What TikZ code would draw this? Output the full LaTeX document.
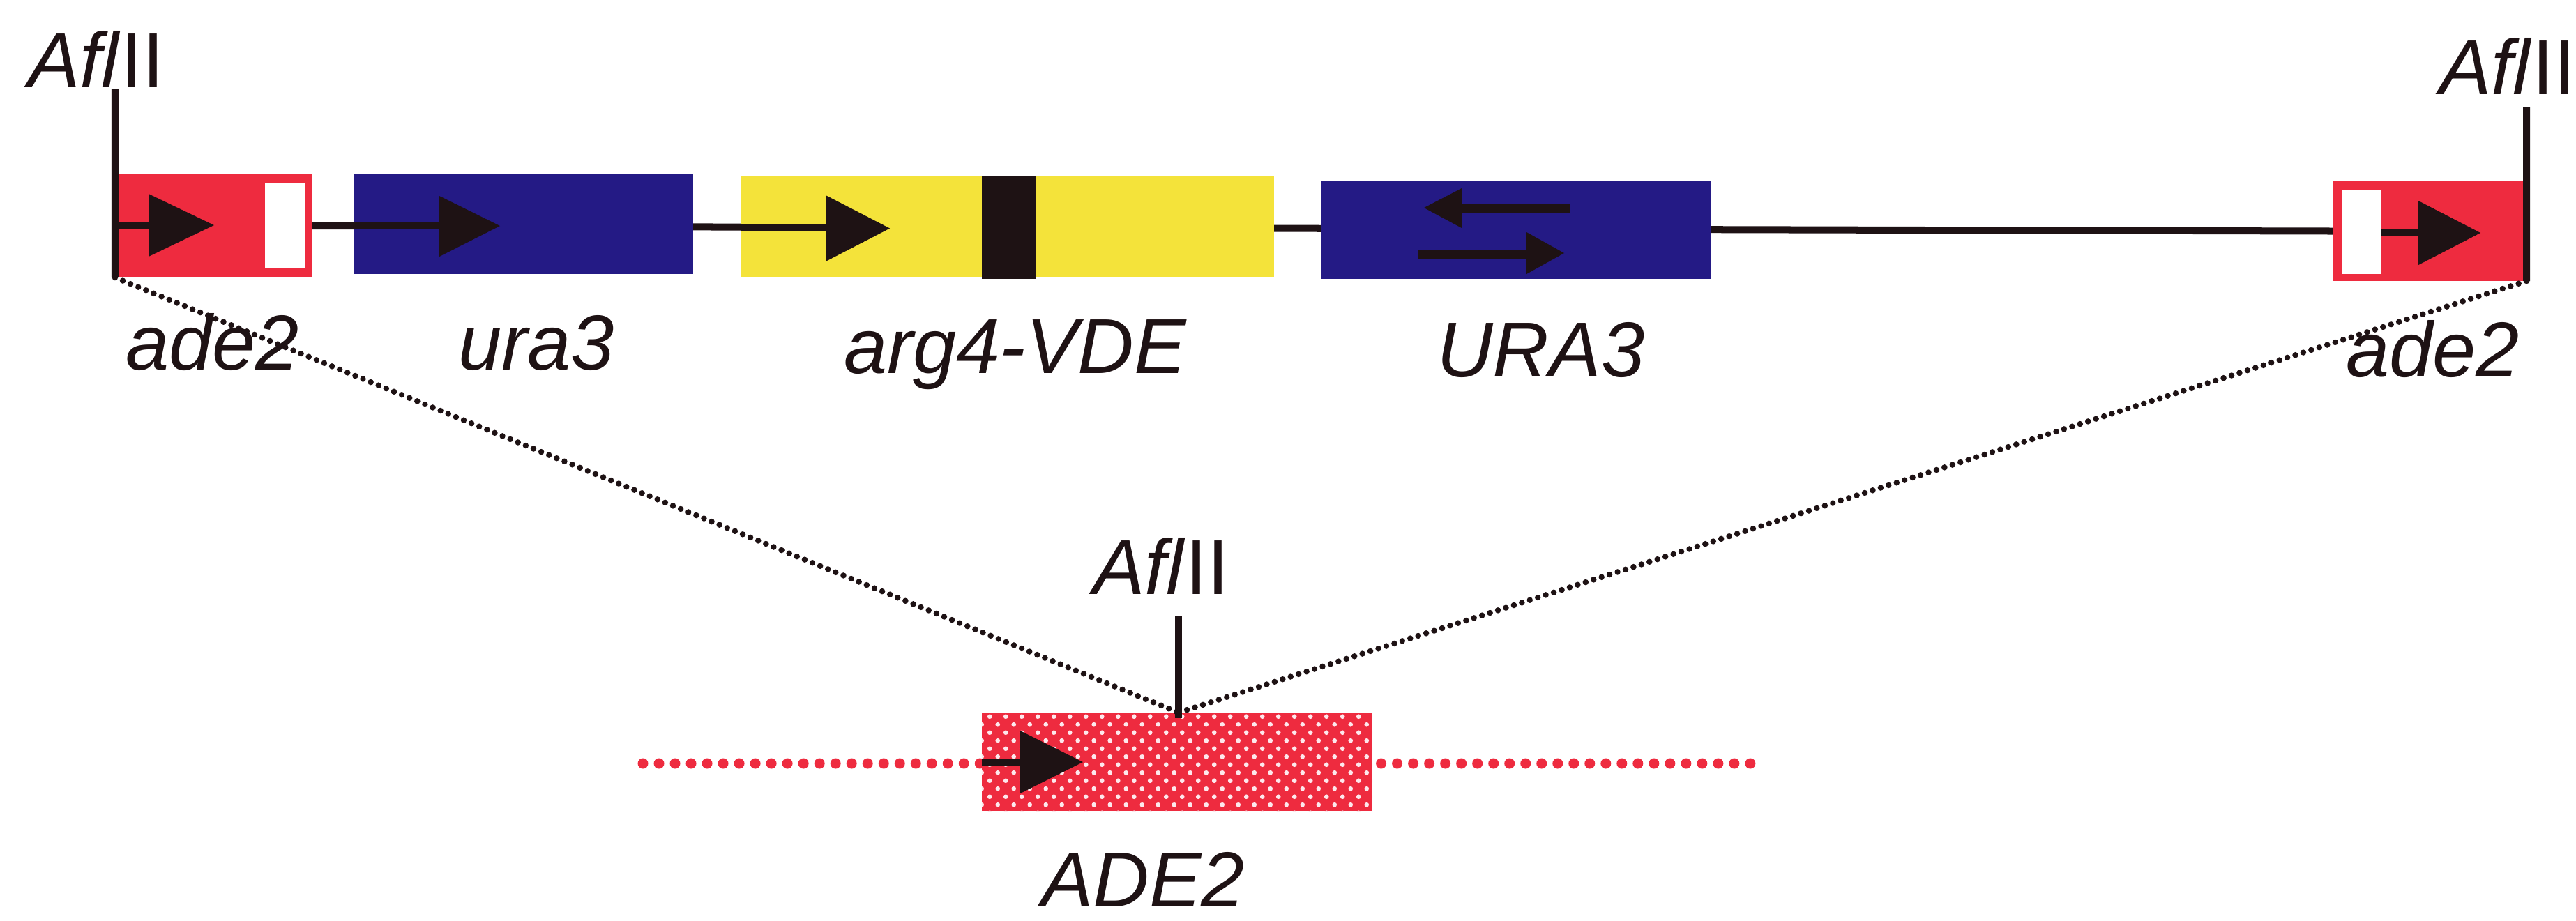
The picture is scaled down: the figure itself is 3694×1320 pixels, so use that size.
\documentclass[tikz,border=0pt]{standalone}
\usepackage{fontspec}
\setmainfont{Liberation Sans}
\usetikzlibrary{patterns}
\pgfdeclarepatternformonly{whitedots}{\pgfpointorigin}{\pgfpoint{6.54pt}{6.54pt}}{\pgfpoint{6.54pt}{6.54pt}}{%
  \pgfpathcircle{\pgfpoint{1.635pt}{1.635pt}}{0.95pt}%
  \pgfpathcircle{\pgfpoint{4.905pt}{4.905pt}}{0.95pt}%
  \pgfusepath{fill}}
\definecolor{gred}{HTML}{EE2B3F}
\definecolor{gblue}{HTML}{241A85}
\definecolor{gyellow}{HTML}{F4E33A}
\definecolor{ink}{HTML}{1E1214}
\definecolor{dotwhite}{HTML}{FDE8EC}
\newcommand\lbfont{\fontsize{31.8pt}{38pt}\selectfont}
\begin{document}
\begin{tikzpicture}[x=0.01cm,y=-0.01cm,
  box/.style={draw=none, inner sep=0pt, outer sep=0pt, rectangle},
  lbl/.style={inner sep=0pt, outer sep=0pt, anchor=base west, font=\lbfont, text=ink},
  bb/.style={draw=ink, line width=0.1cm},
  thick shaft/.style={draw=ink, line width=0.13cm},
  bdot/.style={draw=ink, line width=0.085cm, dash pattern=on 0pt off 0.12cm, line cap=round},
  rdot/.style={draw=gred, line width=0.15cm, dash pattern=on 0pt off 0.23cm, line cap=round},
  tri/.style={fill=ink}]
\useasboundingbox[fill=white] (0,0) rectangle (3694,1320);

% coordinates
\coordinate (tL) at (165,128);
\coordinate (tR) at (3623,153);
\coordinate (tM) at (1690,883);
\coordinate (tMb) at (1690,1030);
\coordinate (meet) at (1690,1022);
\coordinate (rl) at (922,1095);
\coordinate (rr) at (2516,1095);

% boxes (positions)
\node[box, minimum width=2.82cm, minimum height=1.48cm] (ade2L) at (306,324) {};
\node[box, minimum width=2.78cm, minimum height=1.43cm] (ade2R) at (3484,331.5) {};

% backbone and red dotted line (behind)
\draw[bb] (ade2L.east) -- (ade2R.west);
\draw[rdot] (rl) -- (rr);

% boxes (fills)
\fill[gred] (ade2L.south west) rectangle (ade2L.north east);
\node[box, fill=white, minimum width=0.57cm, minimum height=1.22cm] (wL) at (408.5,324) {};
\node[box, fill=gblue, minimum width=4.87cm, minimum height=1.43cm] (ura3) at (750.5,321.5) {};
\node[box, fill=gyellow, minimum width=7.64cm, minimum height=1.44cm] (arg4) at (1445,325) {};
\node[box, fill=ink, minimum width=0.77cm, minimum height=1.47cm] (vde) at (1446.5,326.5) {};
\node[box, fill=gblue, minimum width=5.58cm, minimum height=1.40cm] (URA3) at (2174,330) {};
\fill[gred] (ade2R.south west) rectangle (ade2R.north east);
\node[box, fill=white, minimum width=0.57cm, minimum height=1.21cm] (wR) at (3386.5,332.5) {};
\node[box, fill=gred, minimum width=5.60cm, minimum height=1.41cm,
      postaction={pattern=whitedots, pattern color=dotwhite}] (ADE2) at (1688,1092.5) {};

% arrows
\draw[bb] (ade2L.west |- 0,323) -- (215,323);
\fill[tri] (213,278) -- (307,323) -- (213,368) -- cycle;
\draw[bb] (ura3.west |- 0,324) -- (632,324);
\fill[tri] (630,281) -- (717,324) -- (630,368) -- cycle;
\draw[bb] (arg4.west |- 0,327) -- (1186,327);
\fill[tri] (1184,280) -- (1276,327.5) -- (1184,375) -- cycle;
\draw[thick shaft] (2094,298) -- (2252,298);
\fill[tri] (2096,270) -- (2042,298) -- (2096,327) -- cycle;
\draw[thick shaft] (2033,364) -- (2191,364);
\fill[tri] (2189,333) -- (2243,363) -- (2189,393) -- cycle;
\draw[bb] (wR.east |- 0,333) -- (3470,333);
\fill[tri] (3468,288) -- (3557,334) -- (3468,380) -- cycle;
\draw[bb] (ADE2.west |- 0,1094) -- (1465,1094);
\fill[tri] (1463,1048) -- (1553,1093) -- (1463,1138) -- cycle;

% restriction sites
\draw[bb] (tL) -- (ade2L.south west);
\draw[bb] (tR) -- (ade2R.south east);
\draw[bb] (tM) -- (tMb);

% dotted projection lines
\draw[bdot] (ade2L.south west) -- (meet);
\draw[bdot] (ade2R.south east) -- (meet);

% labels
\node[lbl] (afl1) at (40,125) {\textit{Afl}II};
\node[lbl] (afl2) at (3498,135) {\textit{Afl}II};
\node[lbl] (afl3) at (1567,852) {\textit{Afl}II};
\node[lbl] (lade2L) at (180,530) {\textit{ade2}};
\node[lbl] (lura3) at (657,530) {\textit{ura3}};
\node[lbl] (larg4) at (1210,535) {\textit{arg4-VDE}};
\node[lbl] (lURA3) at (2060,540) {\textit{URA3}};
\node[lbl] (lade2R) at (3364,540) {\textit{ade2}};
\node[lbl] (lADE2) at (1493,1300) {\textit{ADE2}};
\end{tikzpicture}
\end{document}
